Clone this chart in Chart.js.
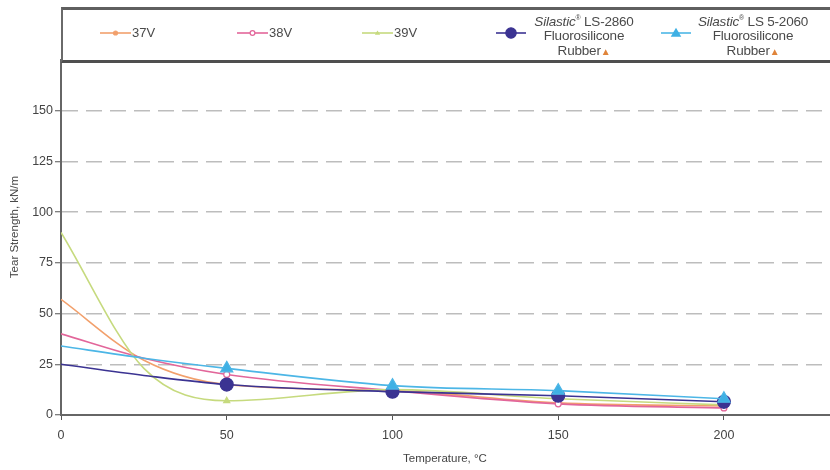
<!DOCTYPE html>
<html>
<head>
<meta charset="utf-8">
<script src="https://cdn.jsdelivr.net/npm/chart.js@4.4.1/dist/chart.umd.min.js"></script>
<style>
  html, body { margin: 0; padding: 0; background: #fff; }
  #wrap { position: relative; width: 830px; height: 470px; overflow: hidden; }
  #chart { position: absolute; left: 0; top: 0; }
  #legendBox {
    position: absolute; left: 61px; top: 7px; width: 775px; height: 50px;
    border-top: 3px solid #5f5f5f; border-left: 2px solid #6a6a6a; border-bottom: 3px solid #4f4f4f;
  }
  .item { position: absolute; font-family: "Liberation Sans", Arial, sans-serif; color: #4a4a4a; }
  .item svg { position: absolute; }
  .lab { position: absolute; white-space: nowrap; font-size: 13px; line-height: 16px; }
  .multi { position: absolute; text-align: center; font-size: 13.5px; line-height: 14.5px; white-space: nowrap; letter-spacing: -0.2px; }
  .multi i { font-style: italic; }
  .multi sup { font-size: 7px; }
  .warn { color: #e0843a; font-size: 10px; }
  #yTitle {
    position: absolute; left: 14px; top: 227px; width: 200px; margin-left: -100px; margin-top: -8px;
    text-align: center; transform: rotate(-90deg); font-family: "Liberation Sans", Arial, sans-serif;
    font-size: 11.5px; line-height: 16px; color: #444; white-space: nowrap;
  }
  #xTitle {
    position: absolute; left: 345px; width: 200px; top: 450px; text-align: center;
    font-family: "Liberation Sans", Arial, sans-serif; font-size: 11.5px; line-height: 16px; color: #444;
  }
</style>
</head>
<body>
<div id="wrap">
  <canvas id="chart" width="830" height="470"></canvas>
  <div id="legendBox"></div>
  <div id="yTitle">Tear Strength, kN/m</div>
  <div id="xTitle">Temperature, °C</div>
</div>
<script>
// -------------------------
// Data (x = 0 and 25 are read off the drawn curves, markers start at 50)
// -------------------------
const temps = [0, 25, 50, 100, 150, 200];
const v37 = [57, 27, 15, 12, 6, 4.5];
const v38 = [40, 28, 20, 12, 5.5, 3.5];
const v39 = [90, 23, 7, 12.5, 8, 5];
const ls2860 = [25, 19.5, 15, 11.5, 9.5, 6.5];
const ls52060 = [34, 28, 23, 14.5, 12, 8];

const xTicks = [0, 50, 100, 150, 200];
const yTicks = [0, 25, 50, 75, 100, 125, 150];

const series = [
  { label: "37V", data: v37, color: "#f2a06c", style: "circle", r: 2.5, fill: "#f2a06c" },
  { label: "38V", data: v38, color: "#e2669a", style: "circle", r: 3, fill: "#ffffff" },
  { label: "39V", data: v39, color: "#c6da7e", style: "triangle", r: 3.5, fill: "#c6da7e" },
  { label: "Silastic® LS-2860 Fluorosilicone Rubber", data: ls2860, color: "#3b3392", style: "circle", r: 6.5, fill: "#3b3392" },
  { label: "Silastic® LS 5-2060 Fluorosilicone Rubber", data: ls52060, color: "#4cb6e6", style: "triangle", r: 7, fill: "#3fb0e4" }
];

// -------------------------
// Chart
// -------------------------
const ctx = document.getElementById("chart").getContext("2d");

new Chart(ctx, {
  type: "line",
  data: {
    datasets: series.map(s => ({
      label: s.label,
      data: temps.map((t, i) => ({ x: t, y: s.data[i] })),
      borderColor: s.color,
      backgroundColor: s.fill,
      borderWidth: 1.6,
      pointStyle: s.style,
      pointRadius: temps.map(t => t < 50 ? 0 : s.r),
      pointBorderColor: s.color,
      pointBackgroundColor: s.fill,
      pointBorderWidth: 1.2,
      cubicInterpolationMode: "monotone",
      fill: false
    })).reverse()
  },
  options: {
    responsive: false,
    devicePixelRatio: 1,
    animation: false,
    layout: { autoPadding: false, padding: { top: 60, right: 0, left: 0, bottom: 0 } },
    plugins: { legend: { display: false }, tooltip: { enabled: false } },
    scales: {
      x: {
        type: "linear",
        min: 0,
        max: 232,
        afterBuildTicks: s => { s.ticks = xTicks.map(v => ({ value: v })); },
        afterFit: s => { s.height = 55; s.paddingLeft = 0; s.paddingRight = 0; },
        ticks: { color: "#444", font: { family: "Liberation Sans, Arial", size: 12.5 }, padding: 8, maxRotation: 0 },
        grid: { drawOnChartArea: false, tickLength: 5, tickColor: "#555", tickWidth: 1 },
        border: { color: "#666", width: 2 }
      },
      y: {
        min: 0,
        max: 175,
        afterBuildTicks: s => { s.ticks = yTicks.map(v => ({ value: v })); },
        afterFit: s => { s.width = 61; s.paddingTop = 0; s.paddingBottom = 0; },
        ticks: { color: "#444", font: { family: "Liberation Sans, Arial", size: 12.5 }, padding: 2 },
        grid: {
          color: c => (c.tick && c.tick.value === 0) ? "rgba(0,0,0,0)" : "#bdbdbd",
          lineWidth: 1.5,
          tickLength: 6,
          tickColor: "#555",
          tickWidth: 1
        },
        border: { color: "#666", width: 2, dash: [16, 8] }
      }
    }
  }
});

// -------------------------
// Legend (HTML)
// -------------------------
const wrap = document.getElementById("wrap");

function markerSvg(s, w) {
  const cy = 8, cx = w / 2;
  let m = "";
  if (s.style === "circle") {
    m = `<circle cx="${cx}" cy="${cy}" r="${s.r * 0.8}" fill="${s.fill}" stroke="${s.color}" stroke-width="1.2"/>`;
  } else {
    const r = s.r * 0.75;
    m = `<polygon points="${cx},${cy - r} ${cx + r},${cy + r * 0.7} ${cx - r},${cy + r * 0.7}" fill="${s.fill}"/>`;
  }
  return `<svg width="${w}" height="16" style="left:0;top:0"><line x1="0" y1="${cy}" x2="${w}" y2="${cy}" stroke="${s.color}" stroke-width="1.6"/>${m}</svg>`;
}

const simplePos = [100, 237, 362];
[0, 1, 2].forEach(i => {
  const s = series[i];
  const d = document.createElement("div");
  d.className = "item";
  d.style.left = simplePos[i] + "px";
  d.style.top = "25px";
  d.innerHTML = markerSvg(s, 31) + `<span class="lab" style="left:32px;top:0px">${s.label}</span>`;
  wrap.appendChild(d);
});

const multiPos = [{ line: 496, text: 584, name: "LS-2860" }, { line: 661, text: 753, name: "LS 5-2060" }];
[3, 4].forEach((i, k) => {
  const s = series[i];
  const p = multiPos[k];
  const d = document.createElement("div");
  d.className = "item";
  d.style.left = p.line + "px";
  d.style.top = "25px";
  d.innerHTML = markerSvg(s, 30);
  wrap.appendChild(d);

  const t = document.createElement("div");
  t.className = "item multi";
  t.style.left = (p.text - 70) + "px";
  t.style.width = "140px";
  t.style.top = "11px";
  t.innerHTML = `<i>Silastic</i><sup>®</sup> ${p.name}<br>Fluorosilicone<br>Rubber<span class="warn">▲</span>`;
  wrap.appendChild(t);
});
</script>
</body>
</html>
